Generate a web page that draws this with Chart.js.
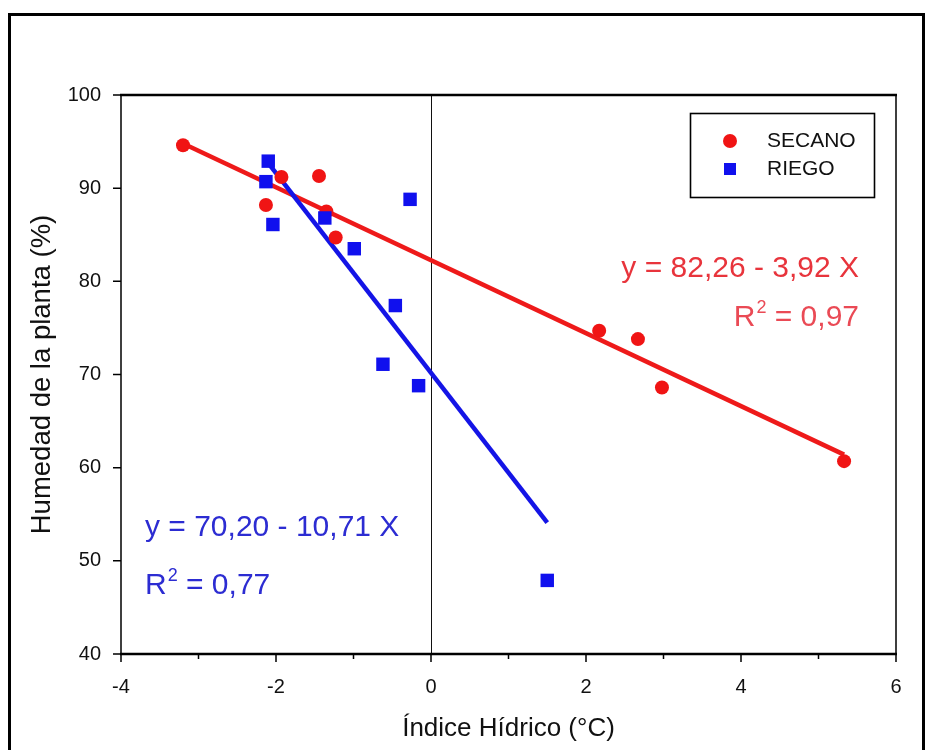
<!DOCTYPE html>
<html><head><meta charset="utf-8">
<script src="https://cdn.jsdelivr.net/npm/chart.js@4.4.1/dist/chart.umd.min.js"></script>
<style>html,body{margin:0;padding:0;background:#fff;}canvas{display:block;}</style>
</head><body>
<canvas id="c" width="930" height="750"></canvas>
<script>
// ---- data ----
const secanoX = [-3.20, -2.13, -1.93, -1.445, -1.35, -1.23, 2.17, 2.67, 2.98, 5.33];
const secanoY = [94.6, 88.2, 91.2, 91.3, 87.5, 84.7, 74.7, 73.8, 68.6, 60.7];
const riegoX  = [-2.10, -2.13, -2.04, -1.37, -0.99, -0.27, -0.46, -0.62, -0.16, 1.50];
const riegoY  = [92.9, 90.7, 86.1, 86.8, 83.5, 88.8, 77.4, 71.1, 68.8, 47.9];
const secanoFitX = [-3.20, 5.33];
const secanoFitY = [94.8, 61.4];
const riegoFitX  = [-2.10, 1.50];
const riegoFitY  = [92.7, 54.1];
const xTicks = [-4, -2, 0, 2, 4, 6];
const xMinorTicks = [-3, -1, 1, 3, 5];
const yTicks = [40, 50, 60, 70, 80, 90, 100];
const seriesNames = ['SECANO', 'RIEGO'];
const eqSecano = ['y = 82,26 - 3,92 X', '0,97'];
const eqRiego  = ['y = 70,20 - 10,71 X', '0,77'];

const RED = '#f01414', BLUE = '#1010ee';
const RED_TXT = '#e8343c', BLUE_TXT = '#2c2cd2';
const FONT = '"Liberation Sans", Arial, sans-serif';
const EQ = 30;

const pts = (xs, ys) => xs.map((x, i) => ({x, y: ys[i]}));

const framePlugin = {
  id: 'frame',
  beforeDraw(chart) {
    const ctx = chart.ctx;
    ctx.save();
    ctx.fillStyle = '#fff';
    ctx.fillRect(0, 0, chart.width, chart.height);
    ctx.restore();
  },
  beforeDatasetsDraw(chart) {
    const {ctx, chartArea: a, scales: {x}} = chart;
    ctx.save();
    ctx.strokeStyle = '#111';
    ctx.lineWidth = 1;
    const x0 = Math.round(x.getPixelForValue(0)) + 0.5;
    ctx.beginPath(); ctx.moveTo(x0, a.top); ctx.lineTo(x0, a.bottom); ctx.stroke();
    ctx.restore();
  },
  afterDatasetsDraw(chart) {
    const {ctx, chartArea: a, scales: {x, y}} = chart;
    ctx.save();
    ctx.strokeStyle = '#000';
    ctx.lineWidth = 1.5;
    ctx.beginPath();
    ctx.moveTo(a.left, a.top); ctx.lineTo(a.left, a.bottom);
    ctx.moveTo(a.right, a.top); ctx.lineTo(a.right, a.bottom);
    ctx.stroke();
    ctx.lineWidth = 2.6;
    ctx.beginPath();
    ctx.moveTo(a.left - 1, a.top); ctx.lineTo(a.right + 1, a.top);
    ctx.moveTo(a.left - 1, a.bottom); ctx.lineTo(a.right + 1, a.bottom);
    ctx.stroke();
    ctx.lineWidth = 1.5;
    ctx.beginPath();
    xTicks.forEach(v => { const p = x.getPixelForValue(v); ctx.moveTo(p, a.bottom); ctx.lineTo(p, a.bottom + 8); });
    xMinorTicks.forEach(v => { const p = x.getPixelForValue(v); ctx.moveTo(p, a.bottom); ctx.lineTo(p, a.bottom + 5); });
    yTicks.forEach(v => { const p = y.getPixelForValue(v); ctx.moveTo(a.left, p); ctx.lineTo(a.left - 8, p); });
    ctx.stroke();

    // outer frame
    ctx.lineWidth = 3;
    ctx.strokeRect(9.5, 14.5, 914, 760);

    // legend box
    ctx.lineWidth = 1.6;
    ctx.strokeRect(690.5, 113.5, 184, 84);
    ctx.fillStyle = RED;
    ctx.beginPath(); ctx.arc(730, 141, 7, 0, Math.PI * 2); ctx.fill();
    ctx.fillStyle = BLUE;
    ctx.fillRect(724, 163, 12, 12);
    ctx.fillStyle = '#111';
    ctx.font = '21px ' + FONT;
    ctx.textBaseline = 'middle';
    ctx.textAlign = 'left';
    ctx.fillText(seriesNames[0], 767, 141);
    ctx.fillText(seriesNames[1], 767, 169);

    const r2Width = (txt) => {
      ctx.font = EQ + 'px ' + FONT; let w = ctx.measureText('R').width;
      ctx.font = '18px ' + FONT; w += ctx.measureText('2').width + 1;
      ctx.font = EQ + 'px ' + FONT; w += ctx.measureText(' = ' + txt).width;
      return w;
    };
    const drawR2 = (txt, xL, base, color) => {
      ctx.fillStyle = color;
      ctx.textBaseline = 'alphabetic';
      ctx.textAlign = 'left';
      ctx.font = EQ + 'px ' + FONT;
      ctx.fillText('R', xL, base);
      let w = ctx.measureText('R').width;
      ctx.font = '18px ' + FONT;
      ctx.fillText('2', xL + w + 1, base - 13);
      w += ctx.measureText('2').width + 1;
      ctx.font = EQ + 'px ' + FONT;
      ctx.fillText(' = ' + txt, xL + w, base);
    };
    ctx.font = EQ + 'px ' + FONT;
    ctx.fillStyle = RED_TXT;
    ctx.textAlign = 'right';
    ctx.textBaseline = 'alphabetic';
    ctx.fillText(eqSecano[0], 859, 277);
    drawR2(eqSecano[1], 859 - r2Width(eqSecano[1]), 326, '#ea4a55');

    ctx.font = EQ + 'px ' + FONT;
    ctx.fillStyle = BLUE_TXT;
    ctx.textAlign = 'left';
    ctx.fillText(eqRiego[0], 145, 536);
    drawR2(eqRiego[1], 145, 594, BLUE_TXT);
    ctx.restore();
  }
};

new Chart(document.getElementById('c'), {
  type: 'scatter',
  data: {
    datasets: [
      { label: 'fitS', data: pts(secanoFitX, secanoFitY), showLine: true, pointRadius: 0,
        borderColor: '#ee1a1a', borderWidth: 4.5, order: 4 },
      { label: 'fitR', data: pts(riegoFitX, riegoFitY), showLine: true, pointRadius: 0,
        borderColor: '#1414e6', borderWidth: 4.5, order: 3 },
      { label: seriesNames[0], data: pts(secanoX, secanoY), pointStyle: 'circle', pointRadius: 7,
        backgroundColor: RED, borderColor: RED, borderWidth: 0, order: 2 },
      { label: seriesNames[1], data: pts(riegoX, riegoY), pointStyle: 'rect', pointRadius: 9.5,
        backgroundColor: BLUE, borderColor: BLUE, borderWidth: 0, order: 1 }
    ]
  },
  options: {
    responsive: false,
    animation: false,
    devicePixelRatio: 1,
    layout: { padding: { left: 0, right: 34, top: 95, bottom: 0 } },
    plugins: { legend: { display: false }, tooltip: { enabled: false } },
    scales: {
      x: {
        type: 'linear', min: -4, max: 6,
        afterBuildTicks: s => { s.ticks = xTicks.map(v => ({value: v})); },
        afterFit: s => { s.height = 96; },
        grid: { display: false, drawTicks: false },
        border: { display: false },
        ticks: { color: '#111', font: { family: FONT, size: 20 }, padding: 21, maxRotation: 0,
                 callback: v => String(v) },
        title: { display: true, text: 'Índice Hídrico (°C)', color: '#111',
                 font: { family: FONT, size: 26 }, padding: { top: 0, bottom: 6 } }
      },
      y: {
        type: 'linear', min: 40, max: 100,
        afterBuildTicks: s => { s.ticks = yTicks.map(v => ({value: v})); },
        afterFit: s => { s.width = 121; },
        grid: { display: false, drawTicks: false },
        border: { display: false },
        ticks: { color: '#111', font: { family: FONT, size: 20 }, padding: 20,
                 callback: v => String(v) },
        title: { display: true, text: 'Humedad de la planta (%)', color: '#111',
                 font: { family: FONT, size: 27.5 }, padding: { top: 26, bottom: 0 } }
      }
    }
  },
  plugins: [framePlugin]
});
</script>
</body></html>
